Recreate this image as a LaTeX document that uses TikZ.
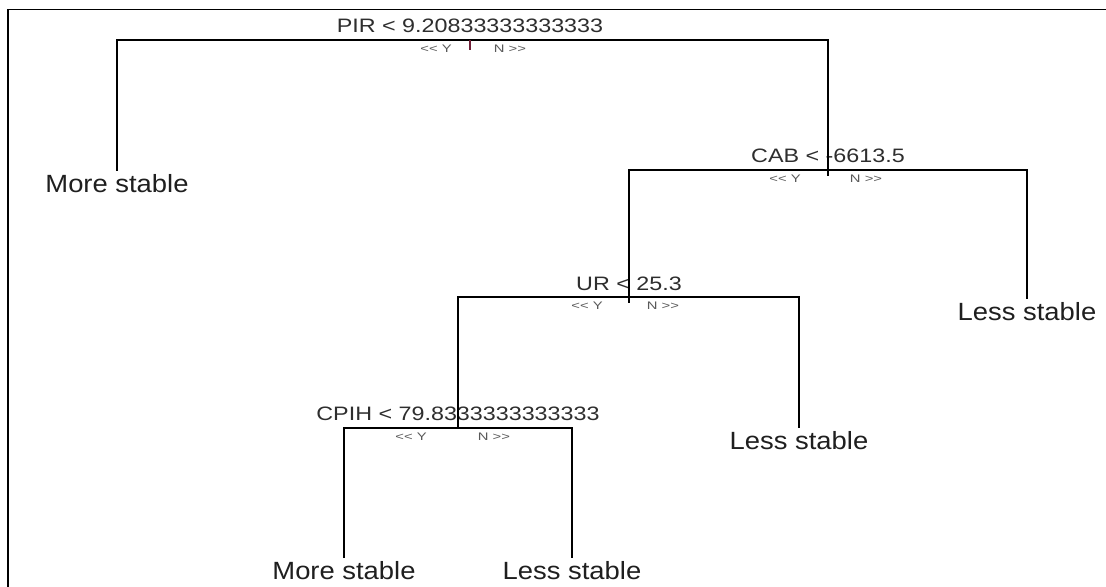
\documentclass[tikz,border=0pt]{standalone}
\usepackage{fontspec}
\setmainfont{Liberation Sans}
\begin{document}
\begin{tikzpicture}[x=1bp,y=-1bp,
  splitlabel/.style={font=\fontsize{19.5}{20}\selectfont, text=black!82, inner sep=0pt, xscale=1.2},
  leaflabel/.style={font=\fontsize{25}{26}\selectfont, text=black!88, inner xsep=0pt, inner ysep=3.5bp, xscale=1.1, anchor=north},
  ynlabel/.style={font=\fontsize{11}{11}\selectfont, text=black!65, inner sep=0pt, xscale=1.35},
  edge/.style={line width=1.6bp, black},
  tick/.style={line width=1.6bp, black},
  frame/.style={line width=1.6bp, black}]
\useasboundingbox (0,0) rectangle (1106,587);
\fill[white] (0,0) rectangle (1106,587);
\draw[frame] (8,587) -- (8,9.5) -- (1106,9.5);

% split points
\coordinate (s1) at (470,40);
\coordinate (s2) at (828,170);
\coordinate (s3) at (629,297);
\coordinate (s4) at (458,428);

% split labels
\node[splitlabel] (t1) at (470,26) {PIR < 9.20833333333333};
\node[splitlabel] (t2) at (828,156) {CAB < -6613.5};
\node[splitlabel] (t3) at (629,284) {UR < 25.3};
\node[splitlabel] (t4) at (458,414) {CPIH < 79.8333333333333};

% yes/no labels
\node[ynlabel] (y1) at (436,49) {<\kern0pt< Y};
\node[ynlabel] (n1) at (510,49) {N >\kern0pt>};
\node[ynlabel] (y2) at (785,179) {<\kern0pt< Y};
\node[ynlabel] (n2) at (866,179) {N >\kern0pt>};
\node[ynlabel] (y3) at (587,306) {<\kern0pt< Y};
\node[ynlabel] (n3) at (663,306) {N >\kern0pt>};
\node[ynlabel] (y4) at (411,437) {<\kern0pt< Y};
\node[ynlabel] (n4) at (494,437) {N >\kern0pt>};

% leaves
\node[leaflabel] (m1) at (117,171) {More stable};
\node[leaflabel] (l2) at (1027,299) {Less stable};
\node[leaflabel] (l3) at (799,428) {Less stable};
\node[leaflabel] (m4) at (344,558) {More stable};
\node[leaflabel] (l5) at (572,558) {Less stable};

% connectors
\draw[edge] (m1.north) |- (s1) -| (s2);
\draw[edge] (s3) |- (s2) -| (l2.north);
\draw[edge] (s4) |- (s3) -| (l3.north);
\draw[edge] (m4.north) |- (s4) -| (l5.north);

% ticks
\draw[tick, draw={rgb,255:red,110;green,30;blue,55}] (s1) -- ++(0,10);
\draw[tick] (s2) -- ++(0,6);
\draw[tick] (s3) -- ++(0,6);
\end{tikzpicture}
\end{document}
